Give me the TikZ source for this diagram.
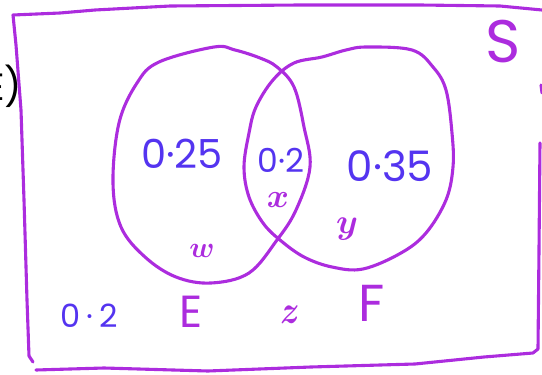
\RequirePackage{fix-cm}
\documentclass[tikz,border=0pt]{standalone}
\usepackage{fontspec}
\usepackage{graphicx}
\setmainfont{Poppins}
\definecolor{pen}{RGB}{172,44,222}
\definecolor{ink}{RGB}{84,52,240}
\tikzset{
  penline/.style={draw=pen, line width=3.1pt, line cap=round, line join=round},
  num/.style={text=ink, inner sep=0pt},
  lab/.style={text=pen, inner sep=0pt},
  var/.style={text=pen, inner sep=0pt, font=\boldmath\fontsize{28}{30}\selectfont},
}
\begin{document}
\begin{tikzpicture}[x=1pt,y=-1pt]
\useasboundingbox (0,0) rectangle (542,375);
% sample space rectangle (hand drawn)
\draw[penline] (542,10) -- (500,6) -- (420,5) -- (300,5) -- (170,6) -- (95,10) -- (60,13) -- (13,15)
  -- (16,45) -- (21,110) -- (24,200) -- (27,300) -- (29,356) -- (33,362);
\draw[penline] (36,370) -- (104,368) -- (208,371) -- (311,367) -- (415,364) -- (484,357) -- (533,353) -- (538,349)
  -- (539,250) -- (540,143);
\draw[penline] (541,85) -- (542,93);
% event E
\draw[penline] plot[smooth cycle, tension=0.6] coordinates {
  (214,47) (235,50) (260,58) (277,67) (294,87) (304,127) (310,167) (296,210) (277,240)
  (249,273) (211,283) (176,277) (145,257) (121,227) (113,183) (119,123) (137,83) (159,62)};
% event F
\draw[penline] plot[smooth cycle, tension=0.6] coordinates {
  (367,47) (412,50) (433,67) (446,90) (452,133) (453,167) (446,200) (426,233) (401,253)
  (363,269) (332,267) (304,257) (280,240) (263,223) (249,197) (244,167) (249,133) (256,107)
  (273,80) (294,63) (322,57) (346,50)};
% probabilities
\node[num, font=\fontsize{40}{44}\selectfont] (pE) at (182,154) {0·25};
\node[num, font=\fontsize{33}{36}\selectfont] (pEF) at (281,160) {0·2};
\node[num, font=\fontsize{42}{46}\selectfont] (pF) at (390,166) {0·35};
\node[num, font=\fontsize{32}{36}\selectfont] (pN) at (89,316) {0\hspace{6pt}·\hspace{6pt}2};
% labels
\node[lab, font=\fontsize{60}{64}\selectfont] (S) at (503,42) {S};
\node[lab, font=\fontsize{45}{48}\selectfont] (E) at (191,312) {E};
\node[lab, font=\fontsize{52}{56}\selectfont] (F) at (372,303) {F};
\node[var] (x) at (278,200) {\scalebox{1.2}{$x$}};
\node[var] (y) at (347,229) {\scalebox{1.25}{$y$}};
\node[var] (w) at (202,251) {\scalebox{1.05}{$w$}};
\node[var] (z) at (290,315) {\scalebox{1.15}[1.4]{$z$}};
% cut-off text at left
\node[text=black, inner sep=0pt, anchor=east, font=\fontsize{38}{40}\selectfont] (cut) at (22,86) {E)};
\end{tikzpicture}
\end{document}
